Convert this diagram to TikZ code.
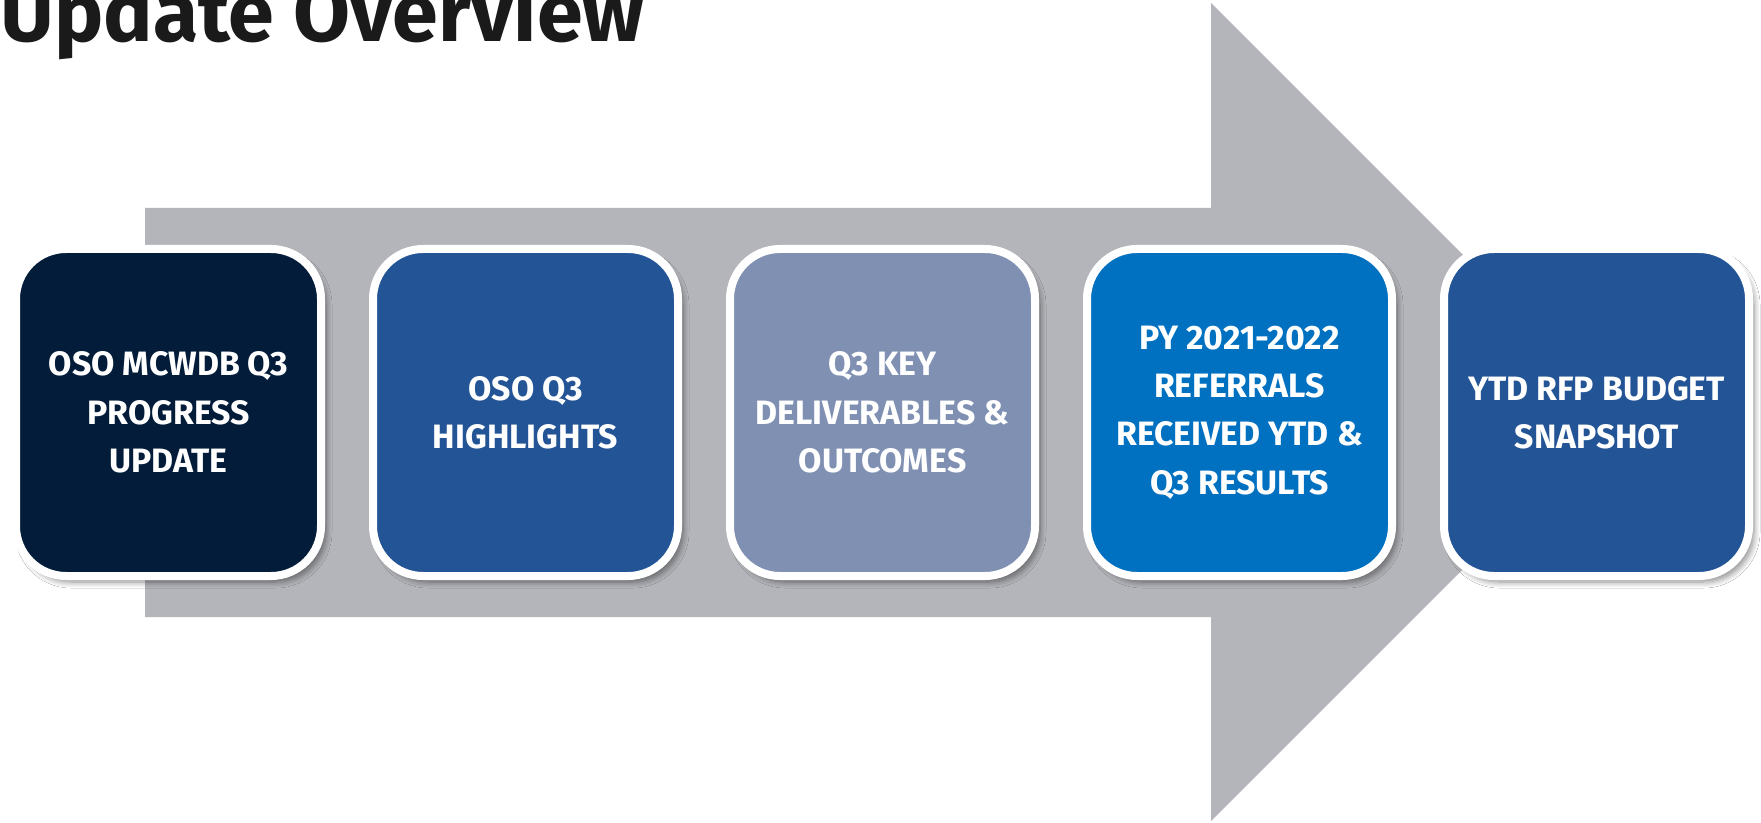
\documentclass[tikz,border=0pt]{standalone}
\usepackage{fontspec}
\setmainfont{Fira Sans}
\usetikzlibrary{shadows.blur}
\definecolor{navy}{HTML}{021C3A}
\definecolor{midblue}{HTML}{235495}
\definecolor{greyblue}{HTML}{7F90B2}
\definecolor{brightblue}{HTML}{0070C0}
\definecolor{arrowgrey}{HTML}{B4B5BA}
\definecolor{titlegrey}{HTML}{1A1A1A}
\tikzset{
  stepbox/.style={draw=white, line width=4pt, rounded corners=25pt,
    minimum width=152.5pt, minimum height=163.5pt, inner sep=0pt,
    align=center, text=white,
    font=\fontsize{16.9}{24.2}\selectfont\bfseries,
    blur shadow={shadow xshift=2.5pt, shadow yshift=-3pt, shadow opacity=45, shadow blur radius=3pt, shadow blur steps=8}},
  arrowshape/.style={fill=arrowgrey, draw=none},
  titletext/.style={text=titlegrey, font=\fontsize{41.3}{44}\selectfont\bfseries, inner sep=0pt, anchor=base west}
}
\begin{document}
\begin{tikzpicture}[x=0.5pt, y=-0.5pt]
\useasboundingbox (0,0) rectangle (1761,823);
\fill[white] (0,0) rectangle (1761,823);
\fill[arrowshape] (145,208) -- (1211,208) -- (1211,3) -- (1620,412) -- (1211,821) -- (1211,617) -- (145,617) -- cycle;
\node[titletext] (title) at (0,42) {Update Overview};
\node[stepbox, fill=navy] (b1) at (168.5,412.5) {OSO MCWDB Q3\\PROGRESS\\UPDATE};
\node[stepbox, fill=midblue] (b2) at (525.5,412.5) {OSO Q3\\HIGHLIGHTS};
\node[stepbox, fill=greyblue] (b3) at (882.5,412.5) {Q3 KEY\\DELIVERABLES \&\\OUTCOMES};
\node[stepbox, fill=brightblue] (b4) at (1239.5,412.5) {PY 2021-2022\\REFERRALS\\RECEIVED YTD \&\\Q3 RESULTS};
\node[stepbox, fill=midblue] (b5) at (1596.5,412.5) {YTD RFP BUDGET\\SNAPSHOT};
\end{tikzpicture}
\end{document}
